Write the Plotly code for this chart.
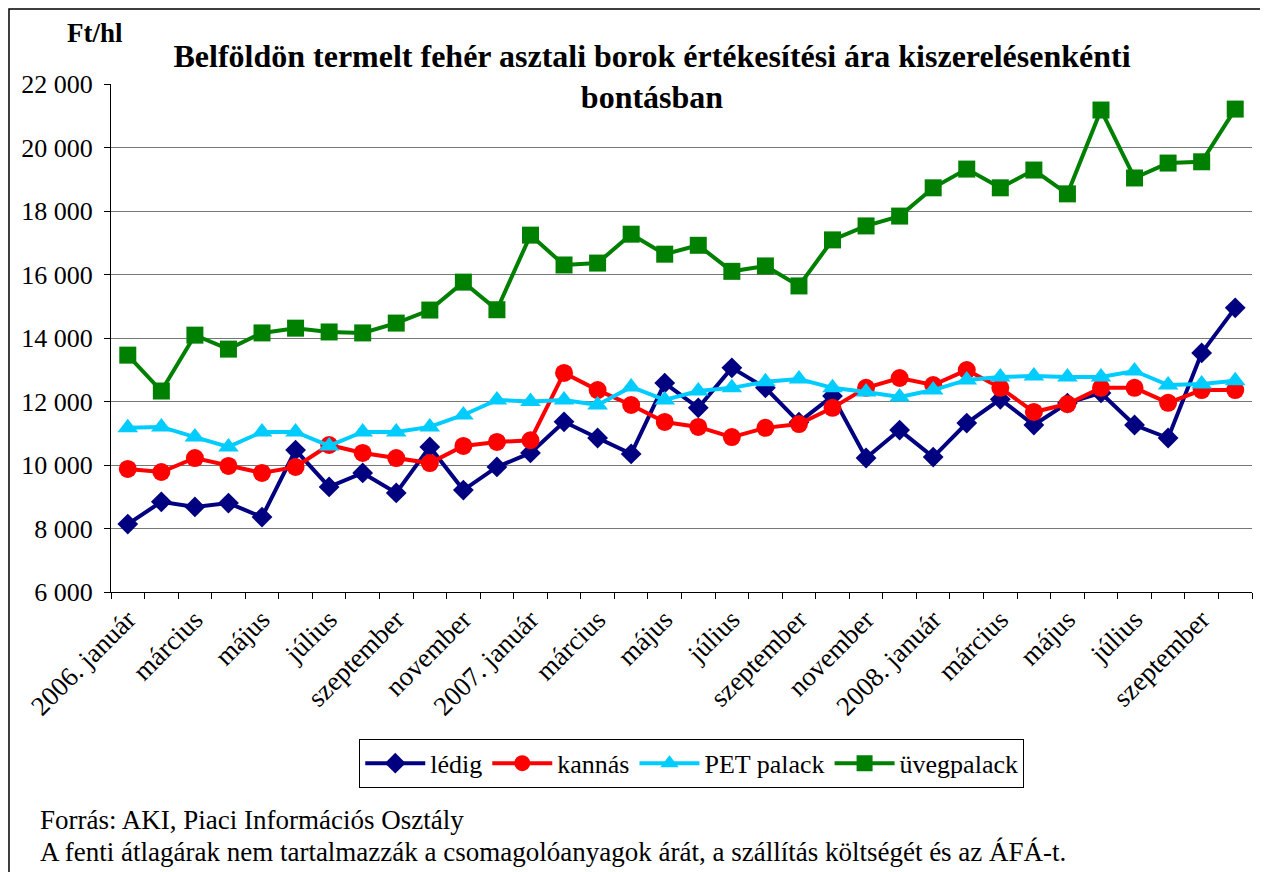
import plotly.graph_objects as go

months = ["2006. január", "február", "március", "április", "május", "június", "július", "augusztus",
          "szeptember", "október", "november", "december",
          "2007. január", "február", "március", "április", "május", "június", "július", "augusztus",
          "szeptember", "október", "november", "december",
          "2008. január", "február", "március", "április", "május", "június", "július", "augusztus",
          "szeptember", "október"]

ledig = [8140, 8840, 8680, 8800, 8360, 10470, 9310, 9750, 9120, 10570, 9210, 9940,
         10380, 11360, 10850, 10350, 12580, 11800, 13060, 12430, 11350, 12170, 10220,
         11100, 10250, 11320, 12070, 11260, 11950, 12270, 11260, 10850, 13530, 14950]
kannas = [9875, 9780, 10220, 9970, 9750, 9940, 10630, 10380, 10220, 10060, 10600, 10725,
          10780, 12900, 12360, 11890, 11355, 11200, 10880, 11170, 11290, 11800, 12430,
          12740, 12520, 12990, 12430, 11670, 11920, 12430, 12430, 11960, 12360, 12360]
pet = [11170, 11200, 10880, 10570, 11040, 11040, 10600, 11040, 11040, 11200, 11575, 12050,
       12000, 12050, 11890, 12460, 12050, 12330, 12430, 12620, 12710, 12430, 12300,
       12140, 12360, 12680, 12770, 12800, 12770, 12770, 12960, 12520, 12550, 12650]
uveg = [13460, 12330, 14090, 13650, 14160, 14310, 14190, 14160, 14470, 14880, 15760, 14890,
        17240, 16300, 16360, 17270, 16640, 16920, 16100, 16270, 15640, 17090, 17530,
        17840, 18730, 19320, 18730, 19290, 18540, 21180, 19040, 19510, 19550, 21210]

series_names = ["lédig", "kannás", "PET palack", "üvegpalack"]
title_text = "Belföldön termelt fehér asztali borok értékesítési ára kiszerelésenkénti<br>bontásban"
y_unit = "Ft/hl"
source_text = "Forrás: AKI, Piaci Információs Osztály"
note_text = "A fenti átlagárak nem tartalmazzák a csomagolóanyagok árát, a szállítás költségét és az ÁFÁ-t."

x_idx = list(range(len(months)))
FONT = "Liberation Serif, Times New Roman, serif"

styles = [
    dict(color="#000080", symbol="diamond", size=16),
    dict(color="#FF0000", symbol="circle", size=18),
    dict(color="#00CCFF", symbol="triangle-up", size=18),
    dict(color="#008000", symbol="square", size=17),
]

W, H = 1252, 864

fig = go.Figure()
for name, vals, st in zip(series_names, [ledig, kannas, pet, uveg], styles):
    fig.add_trace(go.Scatter(
        x=x_idx, y=vals, name=name, mode="lines+markers",
        line=dict(color=st["color"], width=4),
        marker=dict(color=st["color"], symbol=st["symbol"], size=st["size"], line=dict(width=0)),
        hovertext=months,
    ))

fig.update_layout(
    width=W, height=H,
    margin=dict(l=103, r=8, t=76, b=280),
    paper_bgcolor="white", plot_bgcolor="white",
    separators=", ",
    font=dict(family=FONT, size=24, color="black"),
    title=dict(text="<b>" + title_text + "</b>", x=644 / W, xanchor="center",
               y=1 - 58.5 / H, yanchor="middle", font=dict(family=FONT, size=32, color="black")),
    showlegend=True,
    legend=dict(orientation="h", x=0.509, xanchor="center", y=-0.289, yanchor="top",
                bordercolor="black", borderwidth=1, font=dict(family=FONT, size=26),
                itemwidth=60, bgcolor="white"),
    xaxis=dict(
        range=[-0.5, len(months) - 0.5],
        tickmode="array", tickvals=x_idx[::2], ticktext=months[::2],
        tickangle=-45, ticks="", showgrid=False, zeroline=False,
        showline=True, linecolor="black", linewidth=1,
        tickfont=dict(family=FONT, size=27),
        minor=dict(tick0=-0.5, dtick=1, ticks="outside", ticklen=6, tickcolor="black", showgrid=False),
    ),
    yaxis=dict(
        range=[6000, 22000], dtick=2000, tickformat=",d",
        showgrid=True, gridcolor="#777777", gridwidth=1, zeroline=False,
        showline=True, linecolor="black", linewidth=1,
        ticks="outside", ticklen=6, tickcolor="black",
        ticklabelstandoff=6,
        tickfont=dict(family=FONT, size=26),
    ),
    shapes=[dict(type="rect", xref="paper", yref="paper", x0=-0.0894, x1=1.2, y0=-1.0, y1=1.1476,
                 line=dict(color="black", width=1.5), fillcolor="rgba(0,0,0,0)", layer="below")],
    annotations=[
        dict(text="<b>" + y_unit + "</b>", xref="paper", yref="paper", x=-0.014, y=1.100,
             xanchor="center", yanchor="middle", showarrow=False, font=dict(family=FONT, size=27)),
        dict(text=source_text, xref="paper", yref="paper", x=-0.064, y=-0.449,
             xanchor="left", yanchor="middle", showarrow=False, font=dict(family=FONT, size=27)),
        dict(text=note_text, xref="paper", yref="paper", x=-0.064, y=-0.512,
             xanchor="left", yanchor="middle", showarrow=False, font=dict(family=FONT, size=27)),
    ],
)

fig.write_html("out.html")
